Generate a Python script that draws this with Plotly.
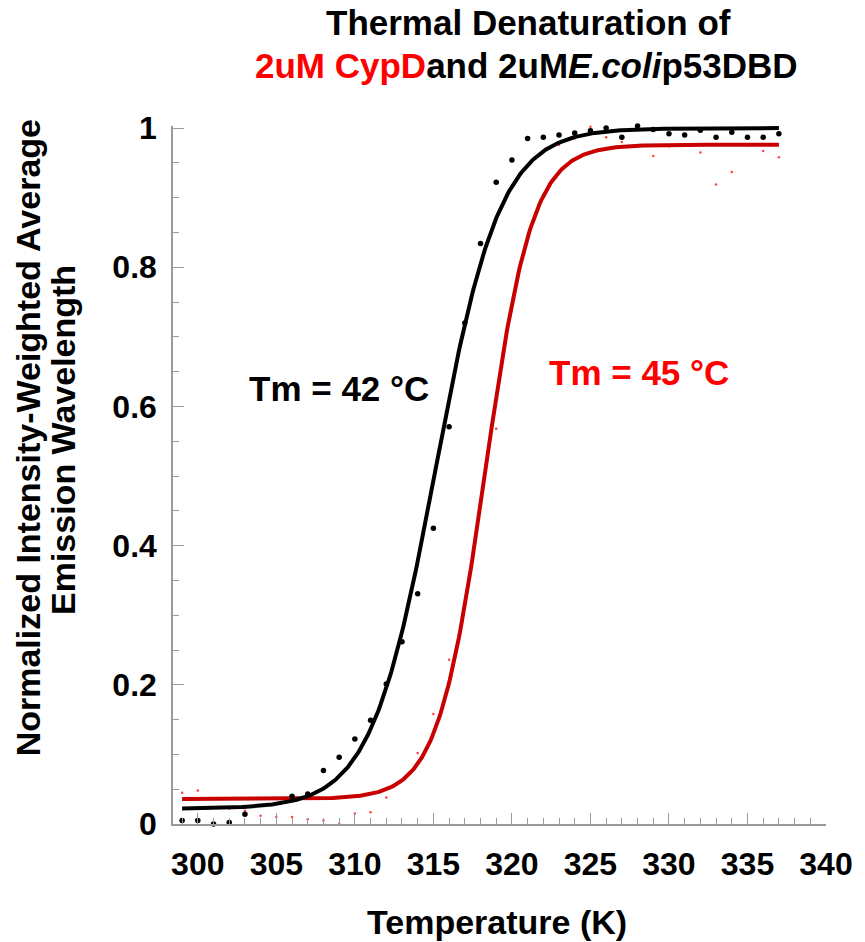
import numpy as np
import plotly.graph_objects as go

# ---- data ----
temperature_K = [299, 300, 301, 302, 303, 304, 305, 306, 307, 308, 309, 310, 311, 312,
                 313, 314, 315, 316, 317, 318, 319, 320, 321, 322, 323, 324, 325, 326,
                 327, 328, 329, 330, 331, 332, 333, 334, 335, 336, 337]

black_values = [0.005, 0.005, 0.000, 0.002, 0.014, None, None, 0.040, 0.043, 0.077,
                0.096, 0.122, 0.149, 0.201, 0.262, 0.331, 0.425, 0.571, 0.720, 0.834,
                0.922, 0.954, 0.985, 0.987, 0.990, 0.993, 0.996, 1.000, 0.987, 1.003,
                0.998, 0.992, 0.990, 0.997, 0.987, 0.994, 0.987, 0.987, 0.992]

red_values = [0.045, 0.048, 0.036, 0.022, 0.019, 0.012, 0.010, 0.010, 0.007, 0.005,
              0.000, 0.015, 0.017, 0.038, 0.063, 0.102, 0.158, 0.236, 0.314, 0.459,
              0.568, 0.747, 0.843, 0.904, 0.976, 0.985, 1.002, 0.987, 0.980, 0.975,
              0.960, 0.974, 0.976, 0.965, 0.919, 0.937, 0.975, 0.967, 0.958]

# Boltzmann fit parameters (bottom, top, Tm [K], slope [K])
black_fit = dict(bottom=0.022, top=1.000, tm=315.15, slope=2.05)
red_fit = dict(bottom=0.036, top=0.976, tm=318.30, slope=1.50)

x_tick_vals = [300, 305, 310, 315, 320, 325, 330, 335, 340]
y_tick_vals = [0, 0.2, 0.4, 0.6, 0.8, 1]
y_tick_text = ["0", "0.2", "0.4", "0.6", "0.8", "1"]


def boltzmann(t, p):
    return p["bottom"] + (p["top"] - p["bottom"]) / (1 + np.exp((p["tm"] - t) / p["slope"]))


t_fit = np.linspace(min(temperature_K), max(temperature_K), 400)

FONT = "Liberation Sans, Arial, sans-serif"
AXIS_GREY = "#9a9a9a"

fig = go.Figure()

fig.add_trace(go.Scatter(x=temperature_K, y=red_values, mode="markers",
                         marker=dict(color="rgba(255,0,0,0.75)", size=2.5),
                         cliponaxis=False, showlegend=False))
fig.add_trace(go.Scatter(x=t_fit, y=boltzmann(t_fit, red_fit), mode="lines",
                         line=dict(color="#c80000", width=4), showlegend=False))
fig.add_trace(go.Scatter(x=temperature_K, y=black_values, mode="markers",
                         marker=dict(color="black", size=5.5),
                         cliponaxis=False, showlegend=False))
fig.add_trace(go.Scatter(x=t_fit, y=boltzmann(t_fit, black_fit), mode="lines",
                         line=dict(color="black", width=4), showlegend=False))

fig.update_layout(
    width=865, height=942,
    margin=dict(l=173, r=33, t=126, b=118),
    paper_bgcolor="white", plot_bgcolor="white",
    font=dict(family=FONT, color="black"),
)

fig.update_xaxes(
    range=[298.42, 340.0],
    tickvals=x_tick_vals,
    ticks="inside", ticklen=11, tickwidth=1, tickcolor=AXIS_GREY,
    minor=dict(dtick=1, tick0=300, ticks="inside", ticklen=6, tickwidth=1, tickcolor=AXIS_GREY),
    showline=True, linecolor=AXIS_GREY, linewidth=1.5,
    showgrid=False, zeroline=False,
    tickfont=dict(size=32, family=FONT, color="black", weight="bold"),
    ticklabelstandoff=11,
)
fig.update_yaxes(
    range=[0, 1.003],
    tickvals=y_tick_vals, ticktext=y_tick_text,
    ticks="inside", ticklen=11, tickwidth=1, tickcolor=AXIS_GREY,
    minor=dict(dtick=0.05, tick0=0, ticks="inside", ticklen=6, tickwidth=1, tickcolor=AXIS_GREY),
    showline=True, linecolor=AXIS_GREY, linewidth=1.5,
    showgrid=False, zeroline=False,
    tickfont=dict(size=32, family=FONT, color="black", weight="bold"),
    ticklabelstandoff=8,
)

PLOT_TOP, PLOT_BOTTOM, PLOT_LEFT, PLOT_RIGHT = 126, 824, 173, 832


def py(pix):
    return (PLOT_BOTTOM - pix) / (PLOT_BOTTOM - PLOT_TOP)


def px(pix):
    return (pix - PLOT_LEFT) / (PLOT_RIGHT - PLOT_LEFT)


annotations = [
    dict(text="<b>Thermal Denaturation of</b>", xref="paper", yref="paper",
         x=px(532), y=py(23), showarrow=False,
         xanchor="center", yanchor="middle", font=dict(size=35, family=FONT, color="black")),
    dict(text="<b><span style='color:#ff0000'>2uM CypD</span>and 2uM<i>E.coli</i>p53DBD</b>",
         xref="paper", yref="paper",
         x=px(530), y=py(65), showarrow=False,
         xanchor="center", yanchor="middle", font=dict(size=35, family=FONT, color="black")),
    dict(text="<b>Normalized Intensity-Weighted Average</b>", xref="paper", yref="paper",
         x=px(27), y=py(438), textangle=-90, showarrow=False,
         xanchor="center", yanchor="middle", font=dict(size=34, family=FONT, color="black")),
    dict(text="<b>Emission Wavelength</b>", xref="paper", yref="paper",
         x=px(62), y=py(440), textangle=-90, showarrow=False,
         xanchor="center", yanchor="middle", font=dict(size=34, family=FONT, color="black")),
    dict(text="<b>Temperature (K)</b>", xref="paper", yref="paper",
         x=px(500), y=py(922), showarrow=False,
         xanchor="center", yanchor="middle", font=dict(size=34, family=FONT, color="black")),
    dict(text="<b>Tm = 42 °C</b>", xref="paper", yref="paper",
         x=px(341), y=py(388), showarrow=False,
         xanchor="center", yanchor="middle", font=dict(size=35, family=FONT, color="black")),
    dict(text="<b>Tm = 45 °C</b>", xref="paper", yref="paper",
         x=px(643), y=py(372), showarrow=False,
         xanchor="center", yanchor="middle", font=dict(size=35, family=FONT, color="#ff0000")),
]
fig.update_layout(annotations=annotations)

fig.write_html("out.html")
